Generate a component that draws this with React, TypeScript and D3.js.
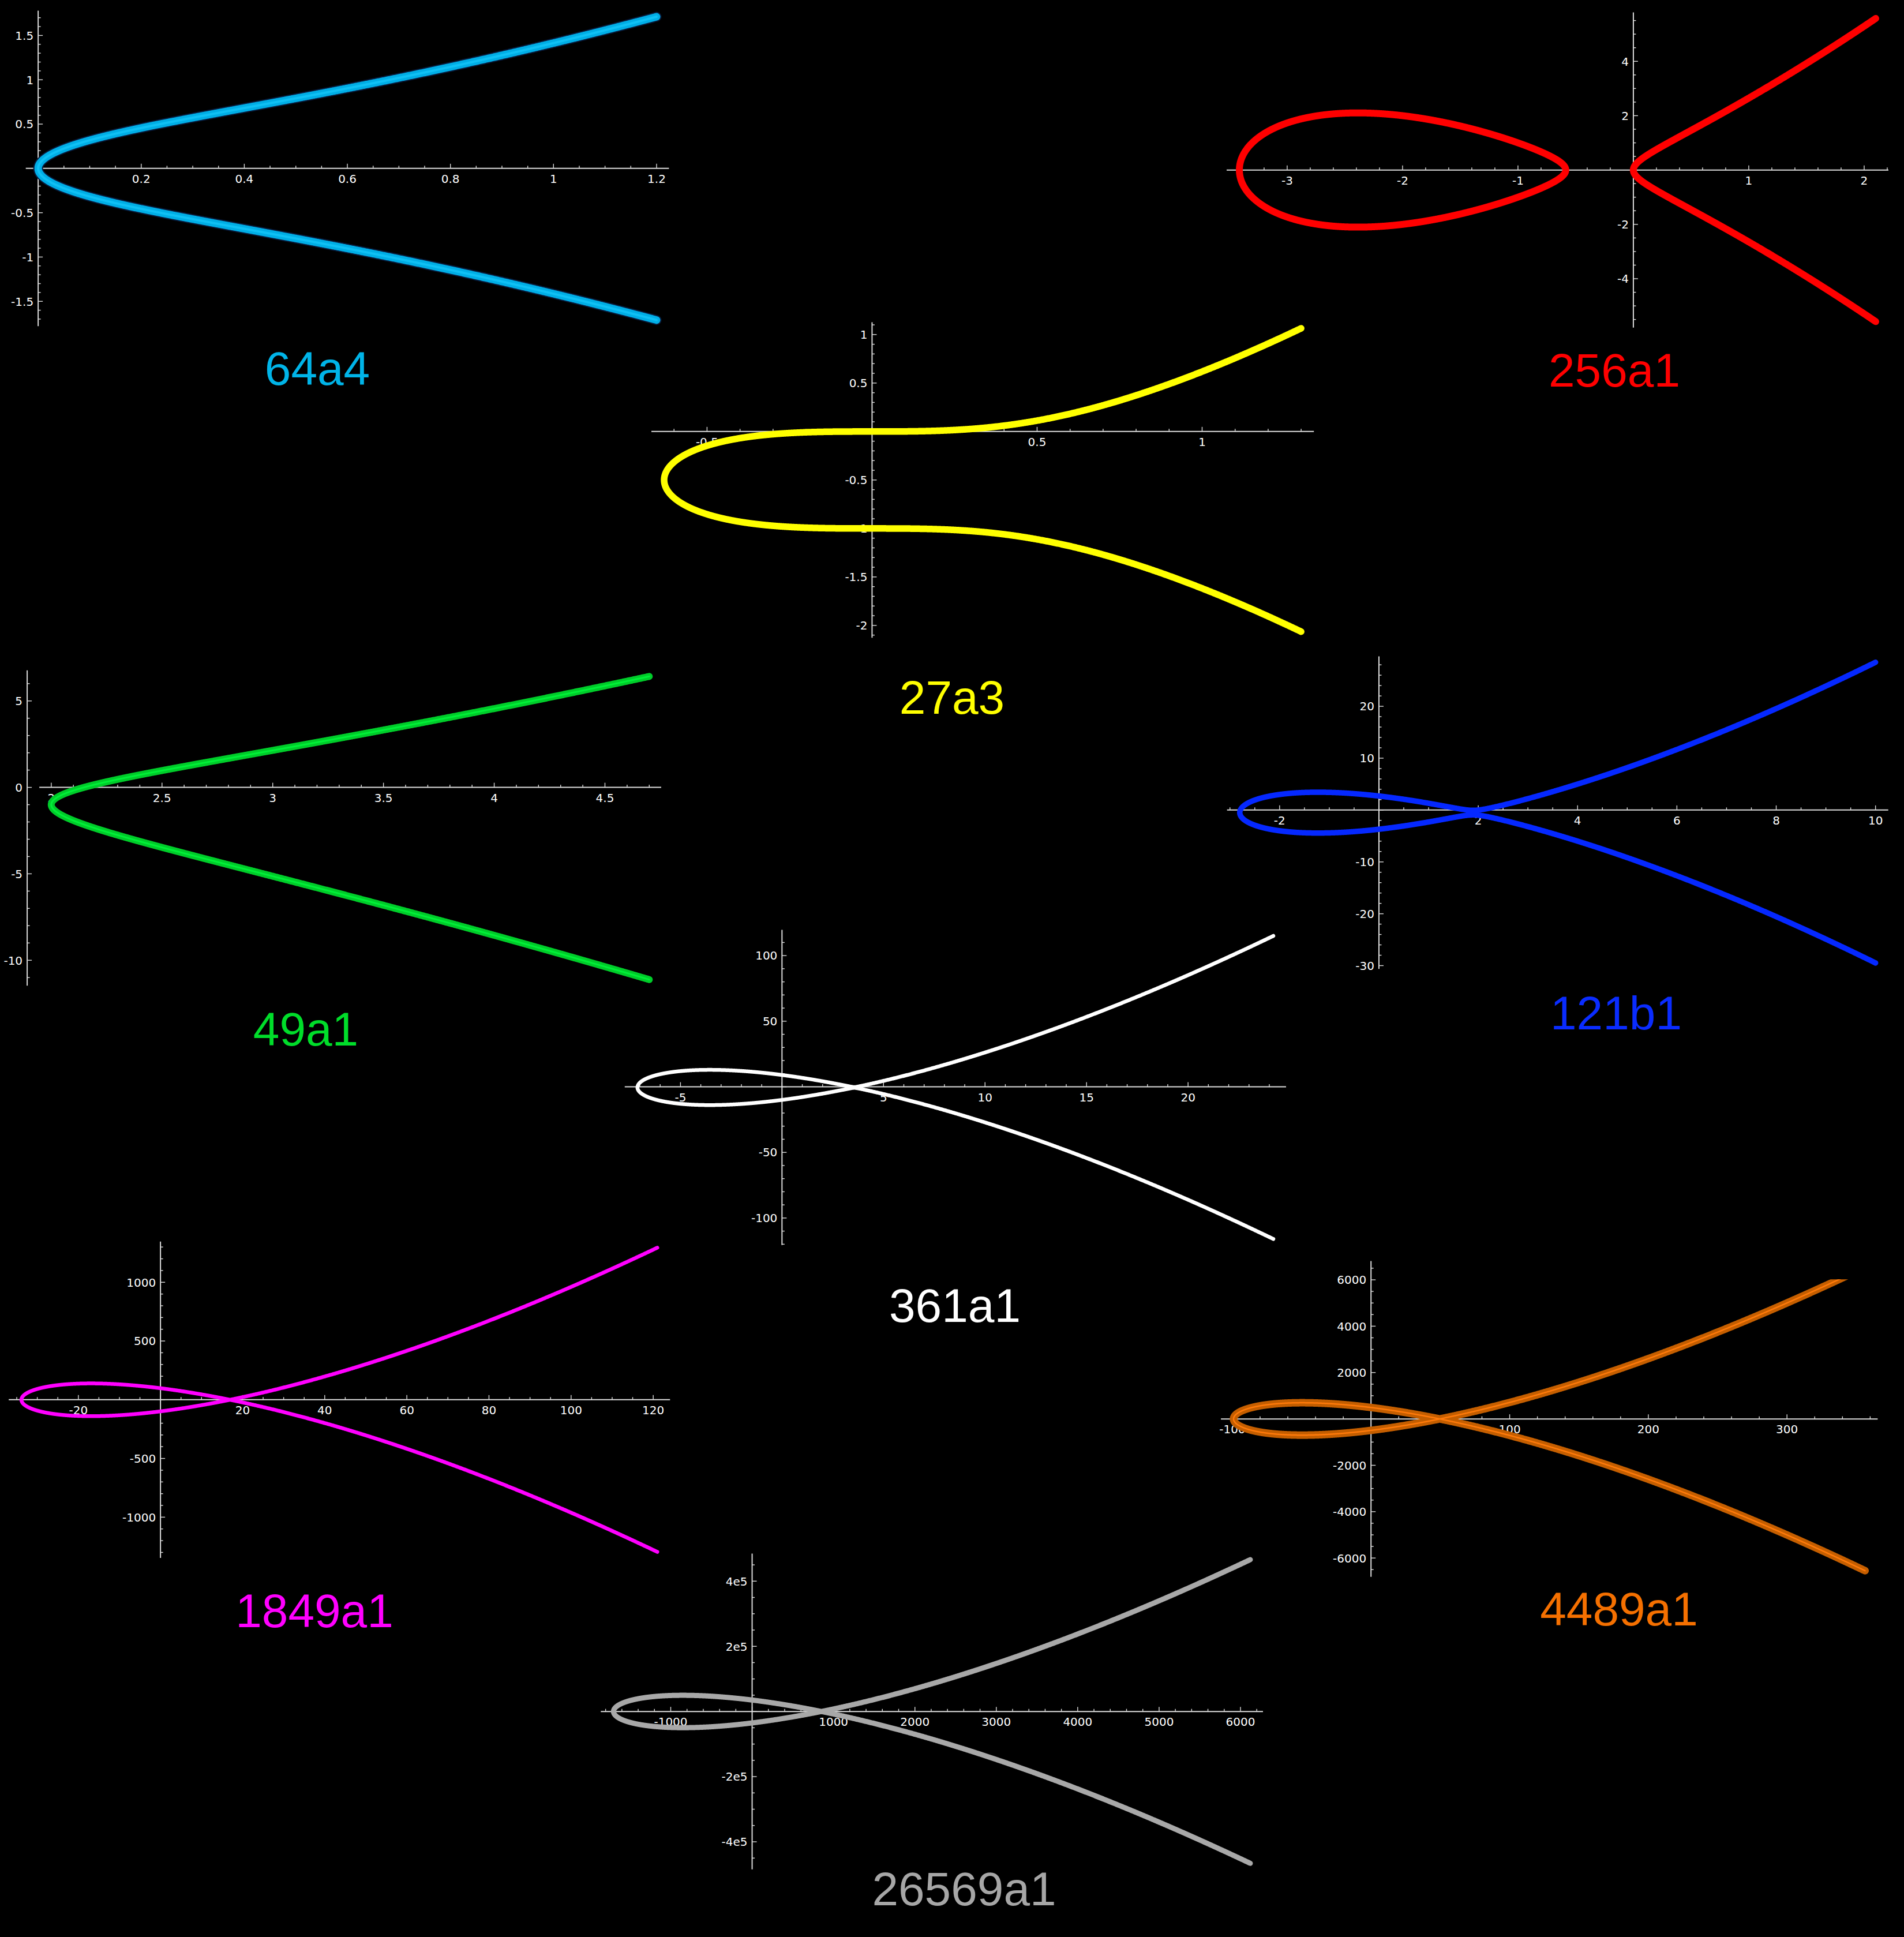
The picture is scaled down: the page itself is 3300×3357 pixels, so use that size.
import React from 'react';
import * as d3 from 'd3';

// ---------------- DATA ----------------
// Cremona labels of the plotted elliptic curves
const curveLabels = ['64a4', '256a1', '27a3', '49a1', '121b1', '361a1', '1849a1', '4489a1', '26569a1'];
// Weierstrass coefficients of y^2 + a1*x*y + a3*y = x^3 + a2*x^2 + a4*x + a6
const coefA1 = [0, 0, 0, 1, 0, 0, 0, 0, 0];
const coefA2 = [0, 4, 0, -1, -1, 0, 0, 0, 0];
const coefA3 = [0, 0, 1, 0, 1, 1, 1, 1, 1];
const coefA4 = [1, 2, 0, -2, -7, -38, -860, -7370, -2174420];
const coefA6 = [0, 0, 0, -1, 10, 90, 9707, 243528, 1234136692];
// right end of the plotted x range
const xRightEnd = [1.2, 2.1, 1.3, 4.7, 10, 24.2, 121, 356.3, 6120];
// upper cut of the drawn curve (only 4489a1 is cut)
const yCutTop: (number | null)[] = [null, null, null, null, null, null, null, 6020, null];
// tick steps
const xMajorStep = [0.2, 1, 0.5, 0.5, 2, 5, 20, 100, 1000];
const xMinorStep = [0.05, 0.2, 0.1, 0.1, 0.5, 1, 5, 20, 200];
const yMajorStep = [0.5, 2, 0.5, 5, 10, 50, 500, 2000, 200000];
const yMinorStep = [0.1, 0.5, 0.1, 1, 2, 10, 100, 500, 50000];
const yTickSci = [false, false, false, false, false, false, false, false, true];

// ---------------- LAYOUT / STYLE ----------------
const W = 3300;
const H = 3357;
const panelBoxes = [
  { l: 44.7, r: 1159.4, t: 18.5, b: 565.2 },
  { l: 2126, r: 3273, t: 21.5, b: 567.8 },
  { l: 1129, r: 2277.2, t: 558.5, b: 1105.2 },
  { l: 68.1, r: 1146, t: 1161.8, b: 1708.2 },
  { l: 2126.7, r: 3272.7, t: 1137.4, b: 1679.3 },
  { l: 1082.8, r: 2229, t: 1611.5, b: 2157.8 },
  { l: 15.1, r: 1161.3, t: 2151.8, b: 2700.1 },
  { l: 2116.1, r: 3254.4, t: 2185.6, b: 2732.7 },
  { l: 1041.3, r: 2189, t: 2692.5, b: 3239.8 },
];
const yAxisShift = [0, 0, 0, -21, 0, 0, 0, 0, 0];
const labelPos = [
  [550, 667], [2798, 670], [1650, 1237], [530, 1812], [2801, 1784],
  [1655, 2291], [545, 2820], [2806, 2817], [1671, 3302],
];
const labelColors = ['#00b4e8', '#ff0000', '#ffff00', '#00dd2a', '#0a2cff', '#ffffff', '#ff00ff', '#f57000', '#a6a6a6'];
const strokeLayers = [
  [{ w: 17, c: '#081b3c' }, { w: 13, c: '#00aee6' }, { w: 4, c: '#10c0f4' }],
  [{ w: 12, c: '#ff0000' }],
  [{ w: 11.5, c: '#ffff00' }],
  [{ w: 12, c: '#00cc2a' }, { w: 3, c: '#00f038' }],
  [{ w: 9.5, c: '#0528ff' }],
  [{ w: 6.5, c: '#ffffff' }],
  [{ w: 6.5, c: '#ff00ff' }],
  [{ w: 13, c: '#c45e00' }, { w: 2.5, c: '#ff7a0a' }],
  [{ w: 9, c: '#a8a8a8' }],
];
const axisColor = '#dcdcdc';
const tickFont = "'DejaVu Sans', sans-serif";
const labelFont = "'Liberation Sans', Arial, sans-serif";

// ---------------- GEOMETRY ----------------
type Pt = [number, number];

function buildPanel(i: number) {
  const a1 = coefA1[i], a2 = coefA2[i], a3 = coefA3[i], a4 = coefA4[i], a6 = coefA6[i];
  const D = (x: number) => {
    const b = a1 * x + a3;
    return b * b + 4 * (((x + a2) * x + a4) * x + a6);
  };
  const yOf = (x: number, s: number) => {
    const b = a1 * x + a3;
    return (-b + s * Math.sqrt(Math.max(0, D(x)))) / 2;
  };
  const xe = xRightEnd[i];
  const lo = -3 * Math.abs(xe) - 5;
  const N = 20000;
  const roots: number[] = [];
  let xp = lo, dp = D(lo);
  for (let k = 1; k <= N; k++) {
    const x = lo + ((xe - lo) * k) / N;
    const d = D(x);
    if ((dp < 0) !== (d < 0)) {
      let a = xp, b = x;
      const neg = dp < 0;
      for (let it = 0; it < 100; it++) {
        const m = (a + b) / 2;
        if ((D(m) < 0) === neg) a = m; else b = m;
      }
      roots.push((a + b) / 2);
    }
    xp = x; dp = d;
  }
  const comps: { pts: Pt[]; closed: boolean }[] = [];
  const M = 1500;
  if (roots.length >= 3) {
    const r1 = roots[0], r2 = roots[1];
    const pts: Pt[] = [];
    for (let k = 0; k <= M; k++) {
      const t = k / M;
      const x = r1 + ((r2 - r1) * (1 - Math.cos(Math.PI * t))) / 2;
      pts.push([x, yOf(x, 1)]);
    }
    for (let k = M; k >= 0; k--) {
      const t = k / M;
      const x = r1 + ((r2 - r1) * (1 - Math.cos(Math.PI * t))) / 2;
      pts.push([x, yOf(x, -1)]);
    }
    comps.push({ pts, closed: true });
  }
  const r = roots[roots.length - 1];
  const bp: Pt[] = [];
  for (let k = M; k >= 0; k--) {
    const t = k / M;
    const x = r + (xe - r) * t * t;
    bp.push([x, yOf(x, 1)]);
  }
  for (let k = 1; k <= M; k++) {
    const t = k / M;
    const x = r + (xe - r) * t * t;
    bp.push([x, yOf(x, -1)]);
  }
  comps.push({ pts: bp, closed: false });

  const all = comps.flatMap((c) => c.pts);
  const xmin = d3.min(all, (p) => p[0])!, xmax = d3.max(all, (p) => p[0])!;
  const ymin = d3.min(all, (p) => p[1])!, ymax = d3.max(all, (p) => p[1])!;
  const px = (xmax - xmin) * 0.02, py = (ymax - ymin) * 0.02;
  const box = panelBoxes[i];
  const xs = d3.scaleLinear().domain([xmin - px, xmax + px]).range([box.l, box.r]);
  const ys = d3.scaleLinear().domain([ymin - py, ymax + py]).range([box.b, box.t]);
  return { comps, xs, ys, box };
}

function fmt(v: number, sci: boolean) {
  if (sci) {
    const m = v / 1e5;
    return `${+m.toFixed(6)}e5`;
  }
  return String(+v.toFixed(8));
}

function ticksOf(dom: number[], minor: number, major: number) {
  const a = Math.ceil(dom[0] / minor - 1e-9), b = Math.floor(dom[1] / minor + 1e-9);
  const out: { v: number; major: boolean }[] = [];
  for (let k = a; k <= b; k++) {
    const v = k * minor;
    const q = v / major;
    out.push({ v, major: Math.abs(q - Math.round(q)) < 1e-6 });
  }
  return out;
}

function Panel({ i }: { i: number }) {
  const { comps, xs, ys, box } = buildPanel(i);
  const xd = xs.domain(), yd = ys.domain();
  const zeroInX = xd[0] <= 0 && xd[1] >= 0;
  const x0 = zeroInX ? xs(0) : box.l + yAxisShift[i];
  const y0 = ys(0);
  const atOrigin = zeroInX;
  const xt = ticksOf(xd, xMinorStep[i], xMajorStep[i]);
  const yt = ticksOf(yd, yMinorStep[i], yMajorStep[i]);
  const line = d3.line<Pt>().x((p) => xs(p[0])).y((p) => ys(p[1]));
  const cut = yCutTop[i];
  const clipId = `clip${i}`;
  return (
    <g>
      {cut !== null && (
        <defs>
          <clipPath id={clipId}>
            <rect x={box.l - 100} y={ys(cut)} width={box.r - box.l + 200} height={box.b - ys(cut) + 100} />
          </clipPath>
        </defs>
      )}
      <line x1={box.l} x2={box.r} y1={y0} y2={y0} stroke={axisColor} strokeWidth={2} />
      <line x1={x0} x2={x0} y1={box.t} y2={box.b} stroke={axisColor} strokeWidth={2} />
      {xt.map((t, k) => (
        <line key={'xt' + k} x1={xs(t.v)} x2={xs(t.v)} y1={y0} y2={y0 - (t.major ? 8 : 4.5)} stroke={axisColor} strokeWidth={1.4} />
      ))}
      {yt.map((t, k) => (
        <line key={'yt' + k} x1={x0} x2={x0 + (t.major ? 8 : 4.5)} y1={ys(t.v)} y2={ys(t.v)} stroke={axisColor} strokeWidth={1.4} />
      ))}
      {xt.filter((t) => t.major && !(atOrigin && Math.abs(t.v) < 1e-12)).map((t, k) => (
        <text key={'xl' + k} x={xs(t.v)} y={y0 + 25} fill="#ffffff" fontFamily={tickFont} fontSize={20} textAnchor="middle">
          {fmt(t.v, false)}
        </text>
      ))}
      {yt.filter((t) => t.major && !(atOrigin && Math.abs(t.v) < 1e-12)).map((t, k) => (
        <text key={'yl' + k} x={x0 - 8} y={ys(t.v) + 7.3} fill="#ffffff" fontFamily={tickFont} fontSize={20} textAnchor="end">
          {fmt(t.v, yTickSci[i])}
        </text>
      ))}
      <g clipPath={cut !== null ? `url(#${clipId})` : undefined}>
        {comps.map((c, ci) =>
          strokeLayers[i].map((s, si) => (
            <path
              key={`c${ci}-${si}`}
              d={(line(c.pts) || '') + (c.closed ? 'Z' : '')}
              fill="none"
              stroke={s.c}
              strokeWidth={s.w}
              strokeLinecap="round"
              strokeLinejoin="round"
            />
          ))
        )}
      </g>
    </g>
  );
}

export default function App() {
  return (
    <div style={{ position: 'absolute', left: 0, top: 0, width: W, height: H, background: '#000' }}>
      <svg width={W} height={H} viewBox={`0 0 ${W} ${H}`} style={{ display: 'block' }}>
        <rect x={0} y={0} width={W} height={H} fill="#000000" />
        {curveLabels.map((_, i) => (
          <Panel key={i} i={i} />
        ))}
        {curveLabels.map((lab, i) => (
          <text key={'lab' + i} x={labelPos[i][0]} y={labelPos[i][1]} fill={labelColors[i]} fontFamily={labelFont} fontSize={82} textAnchor="middle">
            {lab}
          </text>
        ))}
      </svg>
    </div>
  );
}
